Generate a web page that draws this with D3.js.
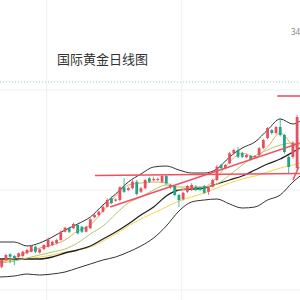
<!DOCTYPE html>
<html lang="zh">

<head>
  <meta charset="UTF-8">
  <title>国际黄金日线图</title>
  <style>
    html, body {
      margin: 0px;
      padding: 0px;
      background-color: #fff;
      overflow: hidden;
    }

    svg {
      display: block;
    }

    .title {
      font-family: "Noto Sans CJK SC", "Noto Sans", sans-serif;
      font-size: 13px;
      fill: #333;
    }

    .price-label {
      font-family: "Noto Sans", sans-serif;
      font-size: 8px;
      fill: #888;
    }
  </style>
  <script src="https://cdn.jsdelivr.net/npm/d3@7/dist/d3.min.js"></script>
</head>

<body>
  <svg width="300" height="300"></svg>

  <script>
    // daily candles
    const openPrices = [2693, 2720, 2743, 2736, 2733, 2736, 2747, 2753, 2773, 2750,
      2764, 2773, 2780, 2787, 2800, 2833, 2847, 2847, 2860, 2853,
      2833, 2847, 2891, 2900, 2913, 2933, 2967, 2957, 2960, 3011,
      3000, 3007, 3033, 2993, 3007, 3047, 3039, 3040, 3033, 3056,
      3011, 3016, 2980, 2963, 2993, 3000, 3013, 3011, 3016, 2993,
      3013, 3040, 3100, 3087, 3107, 3147, 3160, 3147, 3131, 3136,
      3131, 3140, 3168, 3208, 3240, 3228, 3252, 3220, 3132, 3132, 3088];
    const closePrices = [2720, 2740, 2733, 2728, 2747, 2753, 2760, 2776, 2753, 2763,
      2780, 2803, 2793, 2800, 2833, 2849, 2833, 2864, 2827, 2833,
      2853, 2883, 2900, 2913, 2933, 2960, 2947, 2962, 3011, 2993,
      3007, 3033, 2984, 3007, 3040, 3033, 3044, 3044, 3056, 3027,
      3020, 2980, 2960, 2989, 3016, 3020, 3000, 3000, 2989, 3011,
      3040, 3093, 3087, 3100, 3147, 3160, 3133, 3133, 3140, 3123,
      3136, 3167, 3200, 3248, 3228, 3252, 3220, 3152, 3092, 3188, 3292];
    const highPrices = [2723, 2745, 2747, 2740, 2750, 2757, 2765, 2780, 2777, 2767,
      2783, 2810, 2797, 2805, 2838, 2853, 2852, 2870, 2865, 2857,
      2857, 2887, 2905, 2917, 2938, 2967, 2975, 2966, 3015, 3047,
      3013, 3040, 3040, 3012, 3045, 3053, 3053, 3050, 3060, 3060,
      3025, 3020, 2985, 2993, 3020, 3027, 3020, 3015, 3020, 3015,
      3045, 3100, 3105, 3105, 3153, 3166, 3173, 3153, 3145, 3141,
      3140, 3172, 3205, 3252, 3243, 3256, 3288, 3225, 3140, 3195, 3300];
    const lowPrices = [2687, 2716, 2707, 2700, 2728, 2730, 2743, 2750, 2748, 2745,
      2760, 2770, 2776, 2783, 2797, 2830, 2828, 2843, 2822, 2828,
      2830, 2843, 2887, 2896, 2910, 2930, 2943, 2953, 2955, 2988,
      2995, 3003, 2978, 2988, 3003, 3028, 3035, 3036, 3028, 3020,
      3005, 2975, 2933, 2958, 2988, 2996, 2995, 2995, 2984, 2980,
      3010, 3035, 3082, 3083, 3103, 3143, 3128, 3128, 3127, 3118,
      3127, 3136, 3163, 3203, 3222, 3222, 3215, 3145, 3068, 3125, 3080];

    // indicator lines, sampled every few candles
    const lineIndex = [-0.4, 3, 6, 9, 12, 15, 18, 21, 24, 27, 30, 33, 36, 39, 42, 45, 48, 51, 54, 57, 60, 63, 66, 69, 70.7];
    const bollUpper = [2792, 2792, 2776, 2788, 2812, 2840, 2864, 2892, 2940, 2984, 3032, 3064, 3092, 3096, 3080, 3068, 3068, 3084, 3132, 3168, 3192, 3240, 3284, 3264, 3276];
    const bollMiddle = [2724, 2724, 2724, 2724, 2732, 2748, 2760, 2776, 2804, 2832, 2864, 2900, 2932, 2976, 3000, 3004, 3008, 3024, 3040, 3056, 3080, 3104, 3124, 3152, 3168];
    const bollLower = [2652, 2656, 2664, 2660, 2664, 2672, 2688, 2704, 2720, 2732, 2752, 2776, 2808, 2856, 2916, 2952, 2960, 2964, 2944, 2928, 2932, 2960, 2980, 3032, 3056];
    const ma5 = [2712, 2728, 2752, 2768, 2780, 2800, 2836, 2860, 2916, 2976, 3020, 3028, 3032, 3028, 3000, 3008, 3012, 3052, 3112, 3148, 3132, 3172, 3228, 3180, 3168];
    const ma10 = [2708, 2716, 2728, 2740, 2752, 2764, 2788, 2824, 2856, 2904, 2948, 2972, 3000, 3020, 3012, 3012, 3012, 3024, 3060, 3100, 3136, 3160, 3180, 3188, 3180];
    const ma60 = [2712, 2720, 2724, 2732, 2740, 2752, 2760, 2772, 2796, 2824, 2856, 2884, 2908, 2932, 2956, 2972, 2988, 3008, 3028, 3044, 3056, 3072, 3088, 3100, 3108];

    // drawn lines: [startIndex, startPrice, endIndex, endPrice]
    const supportLine = [22.1, 3058, 70.7, 3066];
    const trendLine = [25.7, 2932, 70.7, 3188];
    const topLine = [65.3, 3376, 70.7, 3376];
    const steepLine = [69, 3040, 70.4, 3092];
    const lastPrice = 3432;
    const priceLabel = '34';
    const priceTicks = [2600, 3000, 3400];
    const monthStarts = [10.66, 42.65];

    const svg = d3.select('svg');

    const x = d3.scaleLinear().domain([0, 70]).range([1.7, 297.1]);
    const y = d3.scaleLinear().domain([2600, 3400]).range([290, 90]);

    const g = svg.append('g');

    // grid
    g.selectAll('.hgrid')
      .data(priceTicks)
      .enter().append('line')
      .attr('x1', 0).attr('x2', 300)
      .attr('y1', d => y(d)).attr('y2', d => y(d))
      .attr('stroke', '#eef0f2').attr('stroke-width', 1);

    g.selectAll('.vgrid')
      .data(monthStarts)
      .enter().append('line')
      .attr('x1', d => x(d)).attr('x2', d => x(d))
      .attr('y1', 0).attr('y2', 300)
      .attr('stroke', '#eef0f2').attr('stroke-width', 1);

    // current price dotted line
    g.append('line')
      .attr('x1', 0).attr('x2', 300)
      .attr('y1', y(lastPrice)).attr('y2', y(lastPrice))
      .attr('stroke', '#8fd8cf').attr('stroke-width', 1)
      .attr('stroke-dasharray', '1,2');

    svg.append('text')
      .attr('class', 'title')
      .attr('x', 57).attr('y', 64)
      .text('国际黄金日线图');

    svg.append('text')
      .attr('class', 'price-label')
      .attr('x', 291).attr('y', 35)
      .text(priceLabel);

    const line = d3.line()
      .x((d, i) => x(lineIndex[i]))
      .y(d => y(d))
      .curve(d3.curveMonotoneX);

    const series = [
      { values: ma60, color: '#f7d44c', width: 1 },
      { values: bollLower, color: '#333', width: 1 },
      { values: bollUpper, color: '#333', width: 1 },
      { values: bollMiddle, color: '#222', width: 1.3 },
      { values: ma10, color: '#b0c76e', width: 1 },
      { values: ma5, color: '#f5a25e', width: 1 }
    ];

    g.selectAll('.ind')
      .data(series)
      .enter().append('path')
      .attr('fill', 'none')
      .attr('stroke', d => d.color)
      .attr('stroke-width', d => d.width)
      .attr('d', d => line(d.values));

    // candles
    const candles = openPrices.map((o, i) => ({
      i: i, open: o, close: closePrices[i], high: highPrices[i], low: lowPrices[i]
    }));
    const upColor = '#e5505e';
    const downColor = '#1da588';
    const bodyWidth = 2.8;

    const c = g.selectAll('.candle')
      .data(candles)
      .enter().append('g');

    c.append('line')
      .attr('x1', d => x(d.i)).attr('x2', d => x(d.i))
      .attr('y1', d => y(d.high)).attr('y2', d => y(d.low))
      .attr('stroke', d => d.close >= d.open ? upColor : downColor)
      .attr('stroke-width', 0.8);

    c.append('rect')
      .attr('x', d => x(d.i) - bodyWidth / 2)
      .attr('width', bodyWidth)
      .attr('y', d => y(Math.max(d.open, d.close)))
      .attr('height', d => Math.max(0.8, Math.abs(y(d.open) - y(d.close))))
      .attr('fill', d => d.close >= d.open ? upColor : downColor);

    // drawn support / trend lines
    const drawn = [supportLine, trendLine, topLine, steepLine];
    g.selectAll('.drawn')
      .data(drawn)
      .enter().append('line')
      .attr('x1', d => x(d[0])).attr('y1', d => y(d[1]))
      .attr('x2', d => x(d[2])).attr('y2', d => y(d[3]))
      .attr('stroke', '#f2505f')
      .attr('stroke-width', 1.6);
  </script>
</body>

</html>
